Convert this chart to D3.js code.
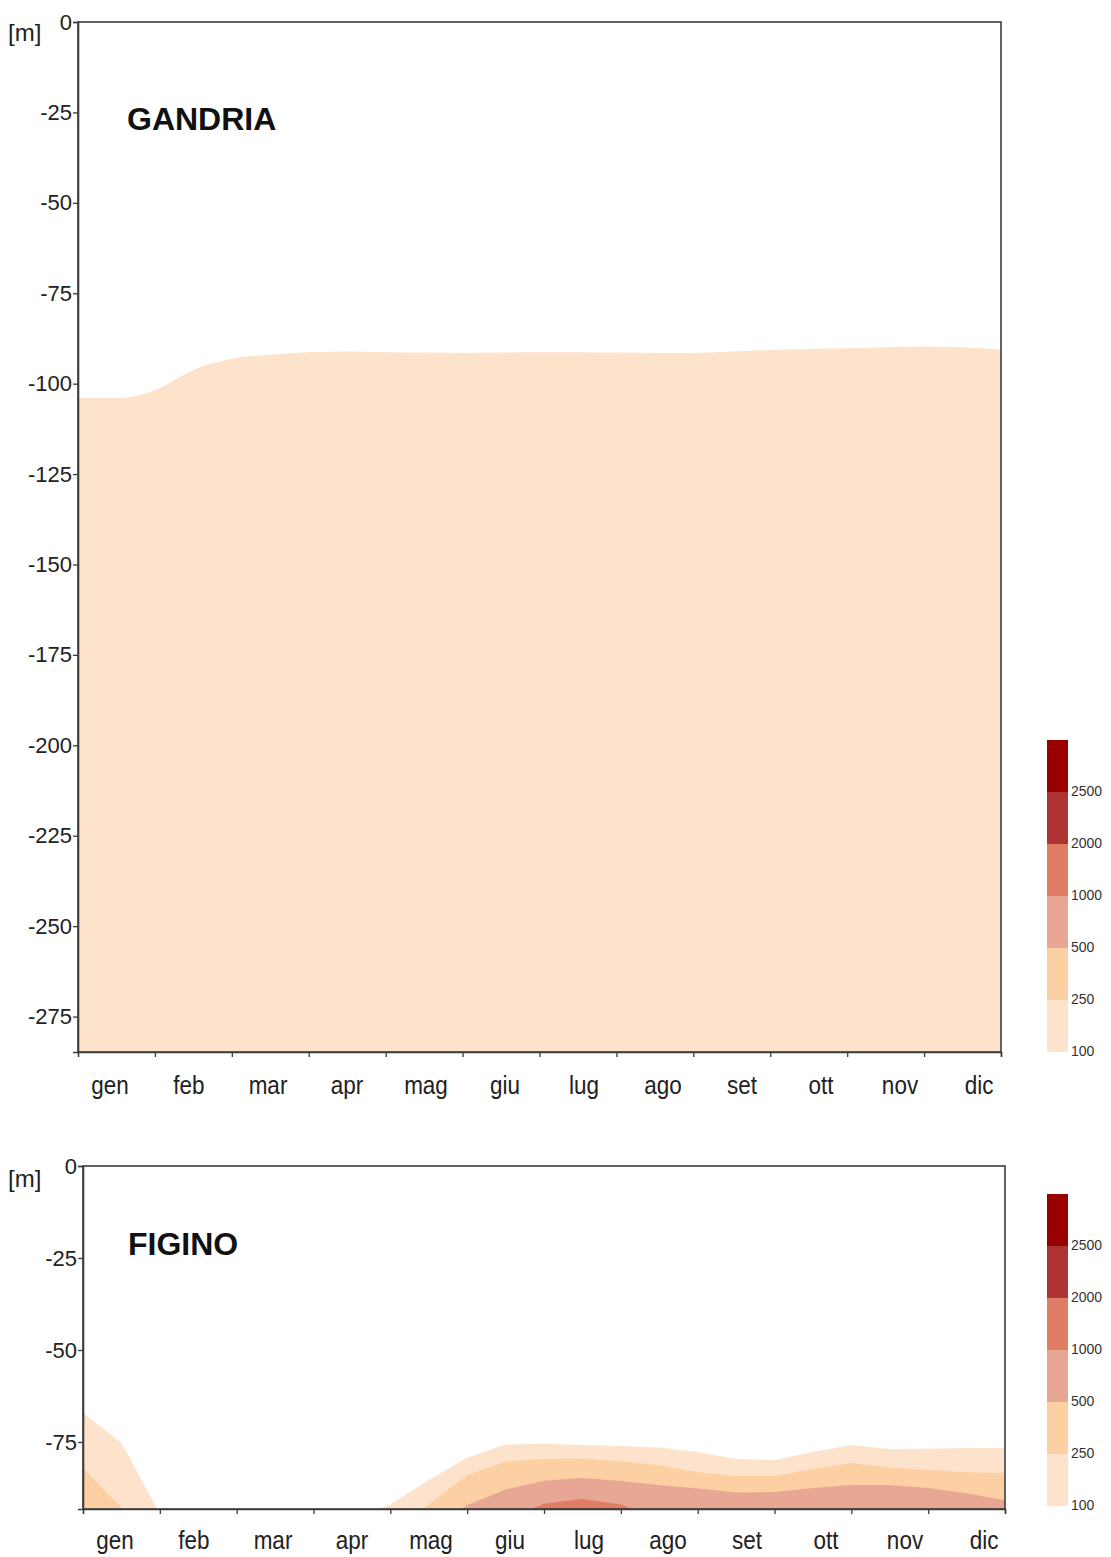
<!DOCTYPE html>
<html>
<head>
<meta charset="utf-8">
<script src="https://cdn.jsdelivr.net/npm/d3@7"></script>
<style>
  html, body { margin: 0; padding: 0; background: #ffffff; }
  svg { display: block; font-family: "Liberation Sans", Arial, sans-serif; }
</style>
</head>
<body>
<svg id="chart" width="1111" height="1557"></svg>
<script>
// Month labels (Italian)
const months = ["gen", "feb", "mar", "apr", "mag", "giu", "lug", "ago", "set", "ott", "nov", "dic"];

// Sampling times in months from 1 January
const timeGrid = [0, 0.5, 1, 1.5, 2, 2.5, 3, 3.5, 4, 4.5, 5, 5.5, 6, 6.5, 7, 7.5, 8, 8.5, 9, 9.5, 10, 10.5, 11, 11.5, 12];

// Depth [m] of each isoline at the sampling times (deeper than the plot = below the bottom edge)
const gandria100 = [-104.0, -104.0, -101.8, -96.2, -93.1, -92.0, -91.3, -91.1, -91.3, -91.4, -91.5, -91.4, -91.3,
                    -91.3, -91.4, -91.5, -91.5, -91.1, -90.7, -90.4, -90.2, -89.9, -89.7, -89.9, -90.6];

const figino100 = [-67.1, -75.3, -94.5, -96, -96, -96, -96, -96, -92.0, -85.3, -79.3, -75.7, -75.5,
                   -75.8, -76.1, -76.5, -77.7, -79.6, -79.9, -77.7, -75.8, -76.9, -76.8, -76.6, -76.6];
const figino250 = [-82.1, -92.8, -100, -100, -100, -100, -100, -100, -100, -91.9, -84.0, -80.3, -79.6,
                   -79.5, -80.2, -81.3, -83.2, -84.2, -84.2, -82.3, -80.7, -81.9, -82.6, -83.2, -83.4];
const figino500 = [-100, -100, -100, -100, -100, -100, -100, -100, -100, -100, -92.1, -87.9, -85.5,
                   -84.8, -85.6, -86.7, -87.6, -88.7, -88.6, -87.5, -86.7, -86.7, -87.5, -88.9, -90.8];
const figino1000 = [-100, -100, -100, -100, -100, -100, -100, -100, -100, -100, -100, -96, -91.8,
                    -90.5, -92.0, -96, -100, -100, -100, -100, -100, -100, -100, -100, -100];

// Colour classes and their lower limits
const legendThresholds = [100, 250, 500, 1000, 2000, 2500];
const classColors = ["#fde3cb", "#fdd0a4", "#e8a695", "#df7e64", "#ae3434", "#990000"];

// Depth axis ticks
const gandriaTicks = [0, -25, -50, -75, -100, -125, -150, -175, -200, -225, -250, -275];
const figinoTicks = [0, -25, -50, -75];

const panels = [
  { id: "g", title: "GANDRIA", left: 78, right: 1001, top: 22, bottom: 1052, minDepth: -284.8,
    ticks: gandriaTicks, layers: [gandria100], curve: d3.curveMonotoneX,
    titleX: 127, titleY: 130, unitY: 41, monthY: 1094, legendTop: 740 },
  { id: "f", title: "FIGINO", left: 83, right: 1005, top: 1166, bottom: 1509, minDepth: -93.2,
    ticks: figinoTicks, layers: [figino100, figino250, figino500, figino1000], curve: d3.curveLinear,
    titleX: 128, titleY: 1255, unitY: 1187, monthY: 1549, legendTop: 1194 }
];

const svg = d3.select("#chart");
const frameColor = "#3c3c3c";
const textColor = "#222222";

panels.forEach(p => {
  const x = d3.scaleLinear().domain([0, 12]).range([p.left, p.right]);
  const y = d3.scaleLinear().domain([0, p.minDepth]).range([p.top, p.bottom]);

  const clipId = "clip-" + p.id;
  svg.append("clipPath").attr("id", clipId)
    .append("rect")
    .attr("x", p.left).attr("y", p.top)
    .attr("width", p.right - p.left).attr("height", p.bottom - p.top);

  // filled isoline classes, lightest first
  const area = d3.area()
    .x((d, i) => x(timeGrid[i]))
    .y0(p.bottom)
    .y1(d => y(d))
    .curve(p.curve);

  const g = svg.append("g").attr("clip-path", `url(#${clipId})`);
  p.layers.forEach((depths, k) => {
    g.append("path")
      .datum(depths)
      .attr("d", area)
      .attr("fill", classColors[k]);
  });

  // frame
  svg.append("rect")
    .attr("x", p.left).attr("y", p.top)
    .attr("width", p.right - p.left).attr("height", p.bottom - p.top)
    .attr("fill", "none").attr("stroke", frameColor).attr("stroke-width", 1.6);

  // depth axis
  const yAxis = svg.append("g")
    .attr("transform", `translate(${p.left},0)`)
    .call(d3.axisLeft(y).tickValues(p.ticks).tickSize(5).tickPadding(1).tickFormat(d => String(d)));
  yAxis.select(".domain").attr("stroke", frameColor).attr("stroke-width", 1.6);
  yAxis.selectAll(".tick line").attr("stroke", frameColor).attr("stroke-width", 1.3);
  yAxis.selectAll(".tick text")
    .attr("fill", textColor)
    .style("font-size", "22px")
    .style("font-family", "'Liberation Sans', Arial, sans-serif");

  // month ticks
  const xAxis = svg.append("g")
    .attr("transform", `translate(0,${p.bottom})`)
    .call(d3.axisBottom(x).tickValues(d3.range(1, 13)).tickSize(5).tickFormat(""));
  xAxis.select(".domain").attr("stroke", frameColor).attr("stroke-width", 1.6);
  xAxis.selectAll(".tick line").attr("stroke", frameColor).attr("stroke-width", 1.3);

  // month labels
  const lx = d3.scalePoint().domain(months).range([p.left + 32, p.left + 32 + 79 * 11]);
  svg.append("g").selectAll("g.month")
    .data(months)
    .join("g")
    .attr("class", "month")
    .attr("transform", d => `translate(${lx(d)},${p.monthY}) scale(1,1.18)`)
    .append("text")
    .attr("text-anchor", "middle")
    .attr("fill", textColor)
    .style("font-size", "22.5px")
    .text(d => d);

  // unit label
  svg.append("text")
    .attr("x", 8).attr("y", p.unitY)
    .attr("fill", textColor)
    .style("font-size", "24px")
    .text("[m]");

  // station name
  svg.append("text")
    .attr("x", p.titleX).attr("y", p.titleY)
    .attr("fill", "#111111")
    .style("font-size", "32px")
    .style("font-weight", "bold")
    .text(p.title);

  // colour legend
  const bandH = 52;
  const ly = d3.scaleLinear().domain([0, legendThresholds.length]).range([p.legendTop + bandH * 6, p.legendTop]);
  const lg = svg.append("g");
  lg.selectAll("rect")
    .data(classColors)
    .join("rect")
    .attr("x", 1047).attr("width", 21)
    .attr("y", (d, i) => ly(i + 1))
    .attr("height", (d, i) => ly(i) - ly(i + 1))
    .attr("fill", d => d);
  lg.selectAll("text")
    .data(legendThresholds)
    .join("text")
    .attr("x", 1071)
    .attr("y", (d, i) => ly(i))
    .attr("dy", "0.3em")
    .attr("fill", "#333333")
    .style("font-size", "14px")
    .text(d => d);
});
</script>
</body>
</html>
